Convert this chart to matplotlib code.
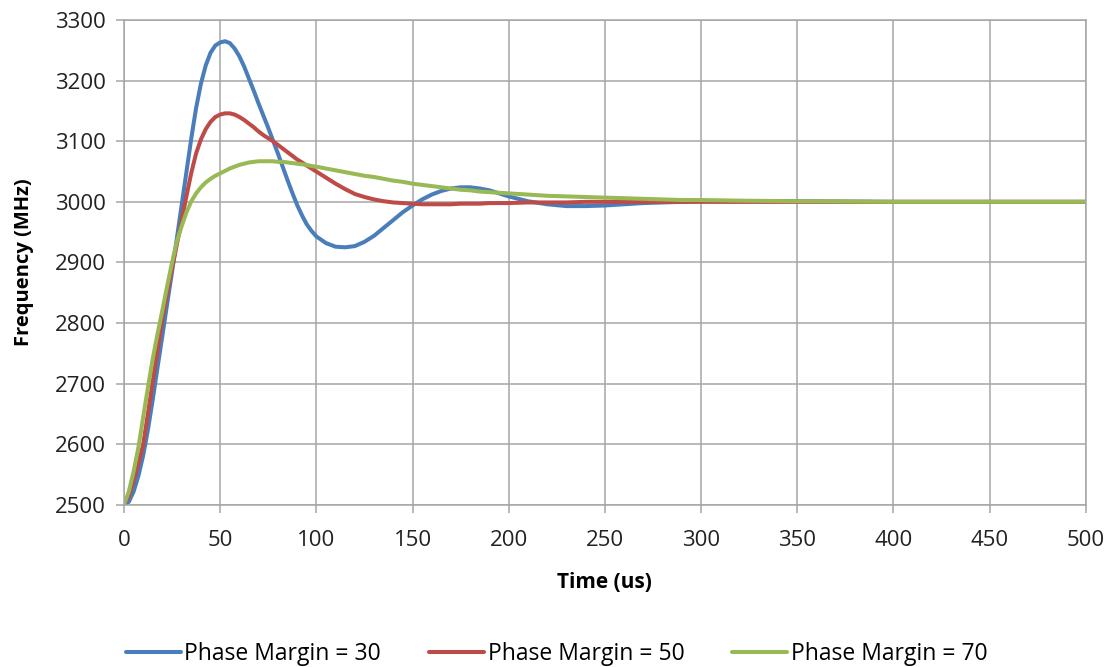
import matplotlib.pyplot as plt
from matplotlib.ticker import MultipleLocator

# Step response of the PLL for three phase margins
time_us = [0, 2.5, 5, 7.5, 10, 12.5, 15, 17.5, 20, 22.5, 25, 27.5, 30, 32.5, 35,
           37.5, 40, 42.5, 45, 47.5, 50, 52.5, 55, 57.5, 60,
           62.5, 65, 67.5, 70, 72.5, 75, 77.5, 80, 82.5, 85, 87.5, 90, 92.5,
           95, 97.5, 100,
           105, 110, 115, 120, 125, 130, 135, 140, 145, 150, 155, 160, 165,
           170, 175, 180, 185, 190, 195, 200,
           210, 220, 230, 240, 250, 260, 270, 280, 290, 300,
           320, 350, 400, 450, 500]

pm30 = [2500, 2505, 2522, 2548, 2582, 2625, 2675, 2728, 2780, 2833, 2885, 2940,
        2995, 3050, 3105, 3155, 3195, 3225, 3246, 3258, 3263, 3265, 3262, 3253, 3240,
        3223, 3203, 3183, 3162, 3142, 3122, 3101, 3080, 3058, 3036, 3015, 2995,
        2978, 2963, 2952, 2943,
        2932, 2926, 2925, 2927, 2934, 2944, 2957, 2970, 2983, 2994, 3004, 3012,
        3018, 3022, 3024, 3024, 3022, 3019, 3014, 3009,
        3001, 2996, 2993, 2993, 2994, 2996, 2998, 2999, 3000, 3001,
        3001, 3001, 3000, 3000, 3000]

pm50 = [2500, 2515, 2540, 2568, 2600, 2652, 2705, 2757, 2808, 2850, 2890, 2930,
        2970, 3010, 3048, 3080, 3103, 3120, 3132, 3140, 3144, 3146, 3146, 3144, 3140,
        3135, 3129, 3123, 3116, 3110, 3105, 3100, 3094, 3088, 3082, 3076, 3070,
        3065, 3060, 3055, 3050,
        3040, 3030, 3021, 3013, 3008, 3004, 3001, 2999, 2998, 2997, 2996, 2996,
        2996, 2996, 2997, 2997, 2997, 2998, 2998, 2998,
        2999, 2999, 2999, 3000, 3000, 3000, 3000, 3000, 3000, 3000,
        3000, 3000, 3000, 3000, 3000]

pm70 = [2500, 2522, 2555, 2595, 2645, 2695, 2742, 2783, 2822, 2862, 2900, 2935,
        2960, 2983, 3001, 3014, 3024, 3032, 3038, 3043, 3047, 3051, 3055, 3058, 3061,
        3063, 3065, 3066, 3067, 3067, 3067, 3067, 3066, 3066, 3065, 3064, 3063,
        3062, 3061, 3059, 3058,
        3055, 3052, 3049, 3046, 3043, 3041, 3038, 3035, 3033, 3030, 3028, 3026,
        3024, 3022, 3020, 3019, 3017, 3016, 3015, 3014,
        3012, 3010, 3009, 3008, 3007, 3006, 3005, 3004, 3003, 3003,
        3002, 3001, 3000, 3000, 3000]

series_labels = ['Phase Margin = 30', 'Phase Margin = 50', 'Phase Margin = 70']
colors = ['#4A7EBB', '#BE4B48', '#98B954']

plt.rcParams['font.family'] = ['Open Sans', 'DejaVu Sans']

fig = plt.figure(figsize=(11.09, 6.67), dpi=100)
ax = fig.add_axes([0.1118, 0.243, 0.979 - 0.1118, 0.970 - 0.243])

for vals, lab, c in zip([pm30, pm50, pm70], series_labels, colors):
    ax.plot(time_us, vals, color=c, lw=2.9, label=lab,
            solid_capstyle='round', solid_joinstyle='round')

ax.set_xlim(0, 500)
ax.set_ylim(2500, 3300)
ax.xaxis.set_major_locator(MultipleLocator(50))
ax.yaxis.set_major_locator(MultipleLocator(100))
ax.grid(True, color='#A6A6A6', lw=1.1)
ax.set_axisbelow(True)
for s in ax.spines.values():
    s.set_color('#A6A6A6')
    s.set_linewidth(1.1)
ax.tick_params(axis='both', colors='#A6A6A6', labelcolor='#222222',
               labelsize=16, length=6, width=1.1)
ax.tick_params(axis='x', pad=12)
ax.tick_params(axis='y', pad=7)

ax.set_xlabel('Time (us)', fontsize=15, fontweight='bold', labelpad=15)
ax.set_ylabel('Frequency (MHz)', fontsize=14.5, fontweight='bold', labelpad=15)

fig.legend(loc='center', bbox_to_anchor=(0.502, 0.02), ncol=3,
           frameon=False, fontsize=16.5, handlelength=2.4,
           handletextpad=0.15, columnspacing=2.1)

fig.savefig('out.png', dpi=100, facecolor='white')
